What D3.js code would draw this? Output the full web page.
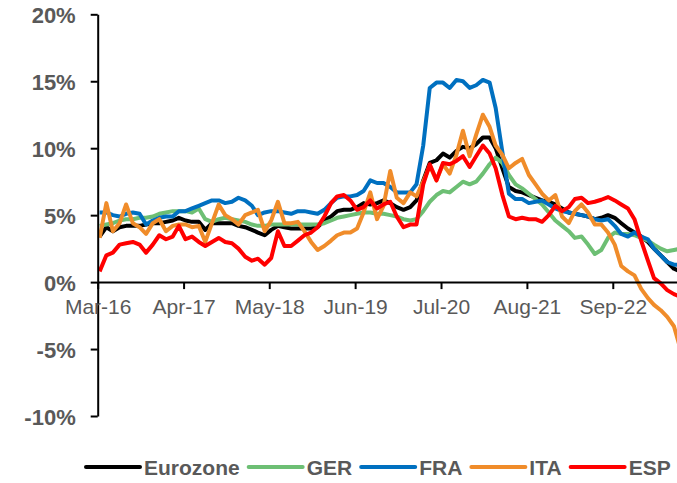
<!DOCTYPE html>
<html>
<head>
<meta charset="utf-8">
<script src="https://cdn.jsdelivr.net/npm/d3@7"></script>
<style>
  body { margin: 0; background: #fff; }
  text { font-family: "Liberation Sans", Arial, sans-serif; }
</style>
</head>
<body>
<svg id="chart"></svg>
<script>
// chart size
const width = 677;
const height = 483;

// monthly data, Mar-16 onwards (values read mid-month)
const startMonth = "Mar-16";
const tickLabels = ["Mar-16", "Apr-17", "May-18", "Jun-19", "Jul-20", "Aug-21", "Sep-22"];
const yTicks = [-10, -5, 0, 5, 10, 15, 20];
const seriesNames = ["Eurozone", "GER", "FRA", "ITA", "ESP"];
const seriesColors = ["#000000", "#6DBF74", "#0070C0", "#F08C2A", "#FF0000"];

const eurozone = [3.4,4.1,3.8,4.1,4.2,4.2,4.2,4.3,4.4,4.4,
  4.5,4.6,4.8,4.6,4.5,4.5,3.9,4.4,4.4,4.4,
  4.4,4.2,4.1,3.9,3.7,3.5,3.9,4.2,4.1,4.0,
  4.0,4.0,4.0,4.1,4.6,4.9,5.3,5.4,5.4,5.6,
  5.9,5.8,5.9,6.1,5.9,5.6,5.4,5.6,6.1,7.6,
  8.9,9.1,9.6,9.3,9.8,10.1,10.0,10.3,10.8,10.8,
  10.0,8.5,7.1,6.8,6.7,6.5,6.3,6.1,6.0,5.8,
  5.5,5.2,5.1,5.0,4.9,4.7,4.8,5.0,4.8,4.4,
  4.0,3.7,3.4,3.0,2.5,2.0,1.5,1.0,0.8];
const ger = [4.2,4.3,4.4,4.6,4.7,4.7,4.8,4.8,4.9,5.1,
  5.2,5.3,5.3,5.3,5.2,5.5,4.7,4.5,4.7,4.8,
  4.7,4.6,4.5,4.3,4.2,4.2,4.3,4.3,4.3,4.3,
  4.3,4.3,4.3,4.3,4.4,4.6,4.8,4.9,5.0,5.1,
  5.2,5.2,5.1,5.1,5.0,4.9,4.7,4.6,4.7,5.3,
  6.0,6.5,6.8,6.7,7.1,7.5,7.3,7.5,8.1,8.8,
  9.3,8.9,8.0,7.3,7.0,6.6,6.2,5.8,5.2,4.6,
  4.2,3.8,3.3,3.4,2.8,2.1,2.4,3.3,3.7,3.6,
  3.6,3.5,3.3,3.1,2.8,2.5,2.3,2.4,2.5];
const fra = [5.2,5.2,5.0,4.9,5.1,5.2,5.1,4.3,4.6,4.8,
  4.9,4.9,5.3,5.3,5.5,5.7,5.9,6.1,6.1,5.9,
  6.0,6.3,6.1,5.7,5.0,5.2,5.3,5.3,5.2,5.1,
  5.3,5.3,5.2,5.1,5.4,5.9,6.3,6.4,6.4,6.5,
  6.8,7.6,7.4,7.4,7.1,6.7,6.7,6.7,7.3,10.2,
  14.5,14.9,14.9,14.5,15.1,15.0,14.5,14.7,15.1,14.9,
  13.0,9.7,6.6,6.2,6.2,5.9,6.0,6.1,5.8,5.5,
  5.3,5.2,5.1,5.0,4.9,4.7,4.6,4.7,4.2,3.6,
  3.4,3.7,3.4,3.2,2.5,2.0,1.5,1.3,1.3];
const ita = [3.3,5.9,3.8,4.4,5.8,4.4,4.1,3.6,4.4,4.7,
  3.8,4.2,4.3,4.3,4.1,4.2,3.0,4.4,5.8,5.0,
  4.7,4.3,5.0,5.2,5.4,3.8,4.6,6.0,4.4,4.4,
  4.5,3.8,3.0,2.4,2.7,3.1,3.5,3.7,3.7,4.0,
  5.2,6.7,4.7,5.7,8.3,6.3,5.9,6.7,6.4,7.5,
  8.7,7.6,8.8,8.1,9.5,11.3,9.4,11.0,12.5,11.6,
  10.2,9.5,8.5,8.9,9.2,8.0,7.3,6.6,6.1,6.5,
  4.9,4.4,5.3,5.8,5.2,4.3,4.3,3.7,2.8,1.2,
  0.8,0.5,-0.5,-1.2,-1.7,-2.1,-2.6,-3.3,-5.0];
const esp = [0.8,2.0,2.2,2.8,2.9,3.0,2.8,2.2,2.8,3.5,
  3.2,3.4,4.2,3.2,3.4,3.0,2.7,3.0,3.3,3.0,
  2.9,2.5,1.9,1.6,1.75,1.3,1.8,3.8,2.7,2.7,
  3.1,3.5,3.7,4.1,4.9,5.9,6.4,6.5,6.1,5.4,
  5.6,6.1,5.5,5.8,6.0,4.9,4.1,4.3,4.3,7.3,
  8.8,7.6,8.9,8.8,9.05,9.4,8.6,9.4,10.2,9.6,
  8.5,6.5,4.9,4.7,4.8,4.7,4.7,4.5,5.0,5.7,
  5.3,5.6,6.2,6.3,5.9,6.0,6.15,6.35,6.1,5.8,
  5.5,4.7,3.1,1.6,0.3,-0.1,-0.6,-0.9,-1.1];

const allSeries = [eurozone, ger, fra, ita, esp];

const parseMonth = d3.utcParse("%b-%y");
const start = parseMonth(startMonth);
// each reading sits on the 10th of its month
const dates = eurozone.map((d, i) => d3.utcDay.offset(d3.utcMonth.offset(start, i), 9));

const svg = d3.select("#chart").attr("width", width).attr("height", height);
svg.append("rect").attr("width", width).attr("height", height).attr("fill", "#fff");

const xScale = d3.scaleUtc()
  .domain([start, d3.utcMonth.offset(start, 88)])
  .range([97.7, 678.5]);

const yScale = d3.scaleLinear().domain([-10, 20]).range([416, 14.3]);

// lines
const line = d3.line()
  .x((d, i) => xScale(dates[i]))
  .y((d) => yScale(d));

svg.append("g")
  .selectAll("path")
  .data(allSeries)
  .enter()
  .append("path")
  .attr("d", (d) => line(d))
  .attr("fill", "none")
  .attr("stroke", (d, i) => seriesColors[i])
  .attr("stroke-width", 4)
  .attr("stroke-linejoin", "round");

// y axis
const yAxis = d3.axisLeft(yScale)
  .tickValues(yTicks)
  .tickFormat((d) => d + "%")
  .tickSize(7)
  .tickSizeOuter(0)
  .tickPadding(15);
const gy = svg.append("g")
  .attr("transform", "translate(97.7,0)")
  .call(yAxis);
gy.select(".domain").attr("stroke", "#000").attr("stroke-width", 2);
gy.selectAll(".tick line").attr("stroke", "#000").attr("stroke-width", 2);
gy.selectAll(".tick text")
  .attr("fill", "#595959")
  .attr("font-size", 22)
  .attr("font-weight", "bold")
  .attr("dy", "0.38em");

// x axis at 0%
const xAxis = d3.axisBottom(xScale)
  .tickValues(tickLabels.map(parseMonth))
  .tickFormat(d3.utcFormat("%b-%y"))
  .tickSize(7)
  .tickSizeOuter(0)
  .tickPadding(10);
const gx = svg.append("g")
  .attr("transform", "translate(0," + yScale(0) + ")")
  .call(xAxis);
gx.select(".domain").attr("stroke", "#000").attr("stroke-width", 2);
gx.selectAll(".tick line").attr("stroke", "#000").attr("stroke-width", 2);
gx.selectAll(".tick text")
  .attr("fill", "#595959")
  .attr("font-size", 21);

// legend
const legend = svg.append("g").attr("transform", "translate(86,467)");
let lx = 0;
seriesNames.forEach((name, i) => {
  legend.append("line")
    .attr("x1", lx).attr("x2", lx + 54)
    .attr("y1", 0).attr("y2", 0)
    .attr("stroke", seriesColors[i])
    .attr("stroke-width", 4)
    .attr("stroke-linecap", "round");
  const t = legend.append("text")
    .attr("x", lx + 58)
    .attr("y", 0)
    .attr("dy", "0.36em")
    .attr("fill", "#595959")
    .attr("font-size", 21)
    .attr("font-weight", "bold")
    .text(name);
  lx += 58 + t.node().getComputedTextLength() + 9;
});
</script>
</body>
</html>
